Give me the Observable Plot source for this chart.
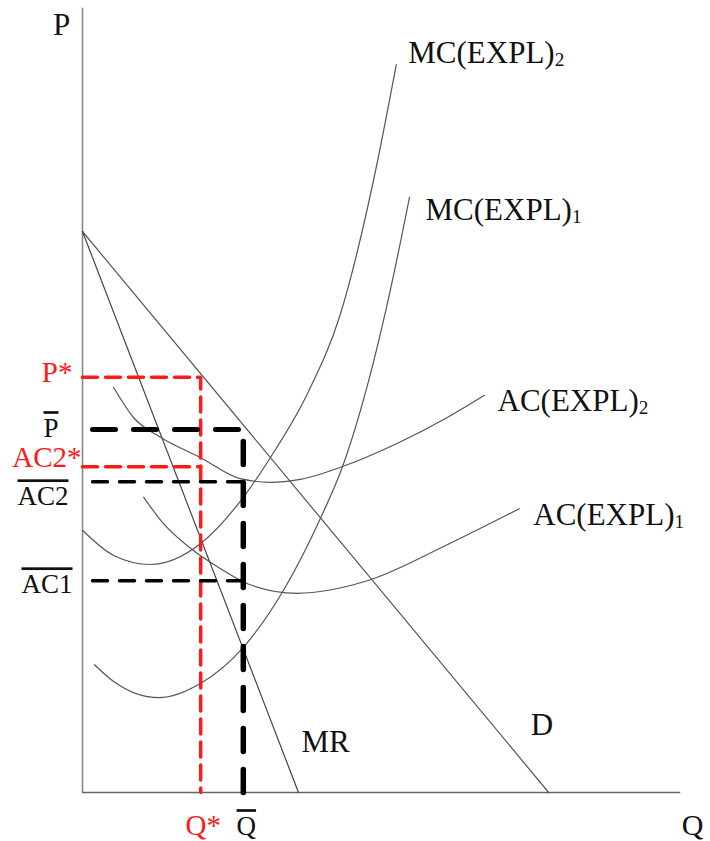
<!DOCTYPE html>
<html><head><meta charset="utf-8">
<script src="https://cdn.jsdelivr.net/npm/d3@7"></script>
<script src="https://cdn.jsdelivr.net/npm/@observablehq/plot@0.6"></script>
<style>
body{margin:0;background:#fff;}
</style>
</head><body><div id="chart"></div>
<script>
// Quantity (Q) and price (P), chart units
const demandQ = [0, 77.7];
const demandP = [93.5, 0];
const mrQ = [0, 36];
const mrP = [93.5, 0];
const mc2Q = [0, 5.2, 11.3, 19.7, 26.8, 31.3, 37.5, 43, 48.5, 52.3];
const mc2P = [43.7, 39.5, 38, 41.5, 49.2, 55.8, 66.5, 79.8, 102, 121.3];
const mc1Q = [2, 5.2, 12.7, 19.7, 26.8, 33.5, 39.7, 43.3, 48, 51.3, 54.5];
const mc1P = [21.3, 18.5, 15.8, 18.2, 24.2, 33.7, 45.8, 54.2, 69.8, 83.7, 99.2];
const ac2Q = [5.2, 8.5, 13, 19.7, 26.3, 31.3, 36.3, 43, 52.5, 60.8, 67];
const ac2P = [67.5, 62.5, 59.2, 55.8, 52.3, 51.7, 52.2, 54.2, 58.2, 62.5, 66.2];
const ac1Q = [10.2, 13.5, 18, 23, 27.5, 35.8, 47.2, 61.2, 72.8];
const ac1P = [49.2, 44.8, 40.7, 37.3, 34.8, 33.2, 35.2, 41.5, 47.3];

const Q_STAR = 19.7, P_STAR = 69.2, AC2_STAR = 54.3;
const Q_BAR = 26.8, P_BAR = 60.5, AC2_BAR = 51.8, AC1_BAR = 35.3;
const Q_MAX = 99.7, P_MAX = 130.7;

const curveNames = ["MC(EXPL)_2", "MC(EXPL)_1", "AC(EXPL)_2", "AC(EXPL)_1"];
// "~" marks a label drawn with an overbar
const barLabels = ["~P", "~AC2", "~AC1", "~Q"];
const starLabels = ["P*", "AC2*", "Q*"];

const zip = (qs, ps) => qs.map((q, i) => ({q, p: ps[i]}));
const demand = zip(demandQ, demandP);
const mr = zip(mrQ, mrP);
const mc2 = zip(mc2Q, mc2P);
const mc1 = zip(mc1Q, mc1P);
const ac2 = zip(ac2Q, ac2P);
const ac1 = zip(ac1Q, ac1P);
const last = a => [a[a.length - 1]];

const curveStyle = {x: "q", y: "p", stroke: "#555", strokeWidth: 1.2, curve: "monotone-x"};
const lblStyle = {x: "q", y: "p", textAnchor: "start", lineAnchor: "middle", fontSize: 31, fill: "#111"};
const RED = "#ff1a1a";

const chart = Plot.plot({
  width: 710, height: 841,
  marginLeft: 82, marginRight: 28, marginTop: 12, marginBottom: 49,
  x: {domain: [0, 100], axis: null},
  y: {domain: [0, 130], axis: null},
  style: {fontFamily: "'Liberation Serif', 'Times New Roman', serif", background: "white", overflow: "visible"},
  marks: [
    // axes
    Plot.ruleX([0], {y1: 0, y2: P_MAX, stroke: "#888", strokeWidth: 1.6}),
    Plot.ruleY([0], {x1: 0, x2: Q_MAX, stroke: "#666", strokeWidth: 1.3}),
    // demand and MR
    Plot.line(demand, {x: "q", y: "p", stroke: "#555", strokeWidth: 1.2}),
    Plot.line(mr, {x: "q", y: "p", stroke: "#444", strokeWidth: 1.2}),
    // cost curves
    Plot.line(mc2, curveStyle),
    Plot.line(mc1, curveStyle),
    Plot.line(ac2, curveStyle),
    Plot.line(ac1, curveStyle),
    // red dashed
    Plot.line([{q: 0, p: P_STAR}, {q: Q_STAR, p: P_STAR}, {q: Q_STAR, p: 0}],
      {x: "q", y: "p", stroke: RED, strokeWidth: 3.5, strokeDasharray: "15,8", strokeLinejoin: "miter"}),
    Plot.line([{q: 0, p: AC2_STAR}, {q: Q_STAR, p: AC2_STAR}],
      {x: "q", y: "p", stroke: RED, strokeWidth: 3.5, strokeDasharray: "15,8"}),
    // black dashed
    Plot.line([{q: 0, p: P_BAR}, {q: Q_BAR, p: P_BAR}],
      {x: "q", y: "p", stroke: "#000", strokeWidth: 5, strokeDasharray: "23,18", strokeDashoffset: 31}),
    Plot.line([{q: Q_BAR, p: 0}, {q: Q_BAR, p: P_BAR}],
      {x: "q", y: "p", stroke: "#000", strokeWidth: 5.5, strokeDasharray: "23,18"}),
    Plot.line([{q: 0, p: AC2_BAR}, {q: Q_BAR, p: AC2_BAR}],
      {x: "q", y: "p", stroke: "#000", strokeWidth: 3.5, strokeDasharray: "15,12", strokeDashoffset: 17}),
    Plot.line([{q: 0, p: AC1_BAR}, {q: Q_BAR, p: AC1_BAR}],
      {x: "q", y: "p", stroke: "#000", strokeWidth: 3.5, strokeDasharray: "15,12", strokeDashoffset: 17}),
    // curve labels
    Plot.text(last(mc2), {...lblStyle, text: () => curveNames[0], dx: 12, dy: -12}),
    Plot.text(last(mc1), {...lblStyle, text: () => curveNames[1], dx: 16, dy: 13}),
    Plot.text(last(ac2), {...lblStyle, text: () => curveNames[2], dx: 13, dy: 6}),
    Plot.text(last(ac1), {...lblStyle, text: () => curveNames[3], dx: 14, dy: 6}),
    Plot.text(last(demand), {...lblStyle, text: () => "D", dx: -18, dy: -67}),
    Plot.text(last(mr), {...lblStyle, text: () => "MR", dx: 3, dy: -50}),
    // axis titles
    Plot.text([{q: 0, p: P_MAX}], {...lblStyle, text: () => "P", textAnchor: "middle", dx: -21, dy: 16.5}),
    Plot.text([{q: Q_MAX, p: 0}], {...lblStyle, text: () => "Q", fontSize: 30, dx: 1, dy: 33}),
    // red labels
    Plot.text([{q: 0, p: P_STAR}], {...lblStyle, text: () => starLabels[0], textAnchor: "end", fill: RED, fontSize: 29, dx: -10, dy: -4.5}),
    Plot.text([{q: 0, p: AC2_STAR}], {...lblStyle, text: () => starLabels[1], textAnchor: "end", fill: RED, fontSize: 29, dx: -1, dy: -9}),
    Plot.text([{q: Q_STAR, p: 0}], {...lblStyle, text: () => starLabels[2], textAnchor: "middle", fill: RED, fontSize: 29, dx: 2.5, dy: 33}),
    // overlined labels
    Plot.text([{q: 0, p: P_BAR}], {...lblStyle, text: () => barLabels[0], textAnchor: "end", fontSize: 27, dx: -24, dy: -1}),
    Plot.text([{q: 0, p: AC2_BAR}], {...lblStyle, text: () => barLabels[1], textAnchor: "end", fontSize: 27, dx: -14, dy: 15}),
    Plot.text([{q: 0, p: AC1_BAR}], {...lblStyle, text: () => barLabels[2], textAnchor: "end", fontSize: 27, dx: -10, dy: 4}),
    Plot.text([{q: Q_BAR, p: 0}], {...lblStyle, text: () => barLabels[3], textAnchor: "middle", fontSize: 27, dx: 3, dy: 34})
  ]
});

const svgns = "http://www.w3.org/2000/svg";
chart.querySelectorAll("text").forEach(t => {
  let s = t.textContent;
  if (s.startsWith("~")) {
    t.textContent = s.slice(1);
    t.style.textDecoration = "overline";
    t.setAttribute("text-decoration", "overline");
    return;
  }
  const i = s.indexOf("_");
  if (i < 0) return;
  t.textContent = s.slice(0, i);
  const ts = document.createElementNS(svgns, "tspan");
  ts.setAttribute("style", "font-size:0.62em");
  ts.setAttribute("dy", "3");
  ts.textContent = s.slice(i + 1);
  t.appendChild(ts);
});

document.getElementById("chart").appendChild(chart);
</script>
</body></html>
